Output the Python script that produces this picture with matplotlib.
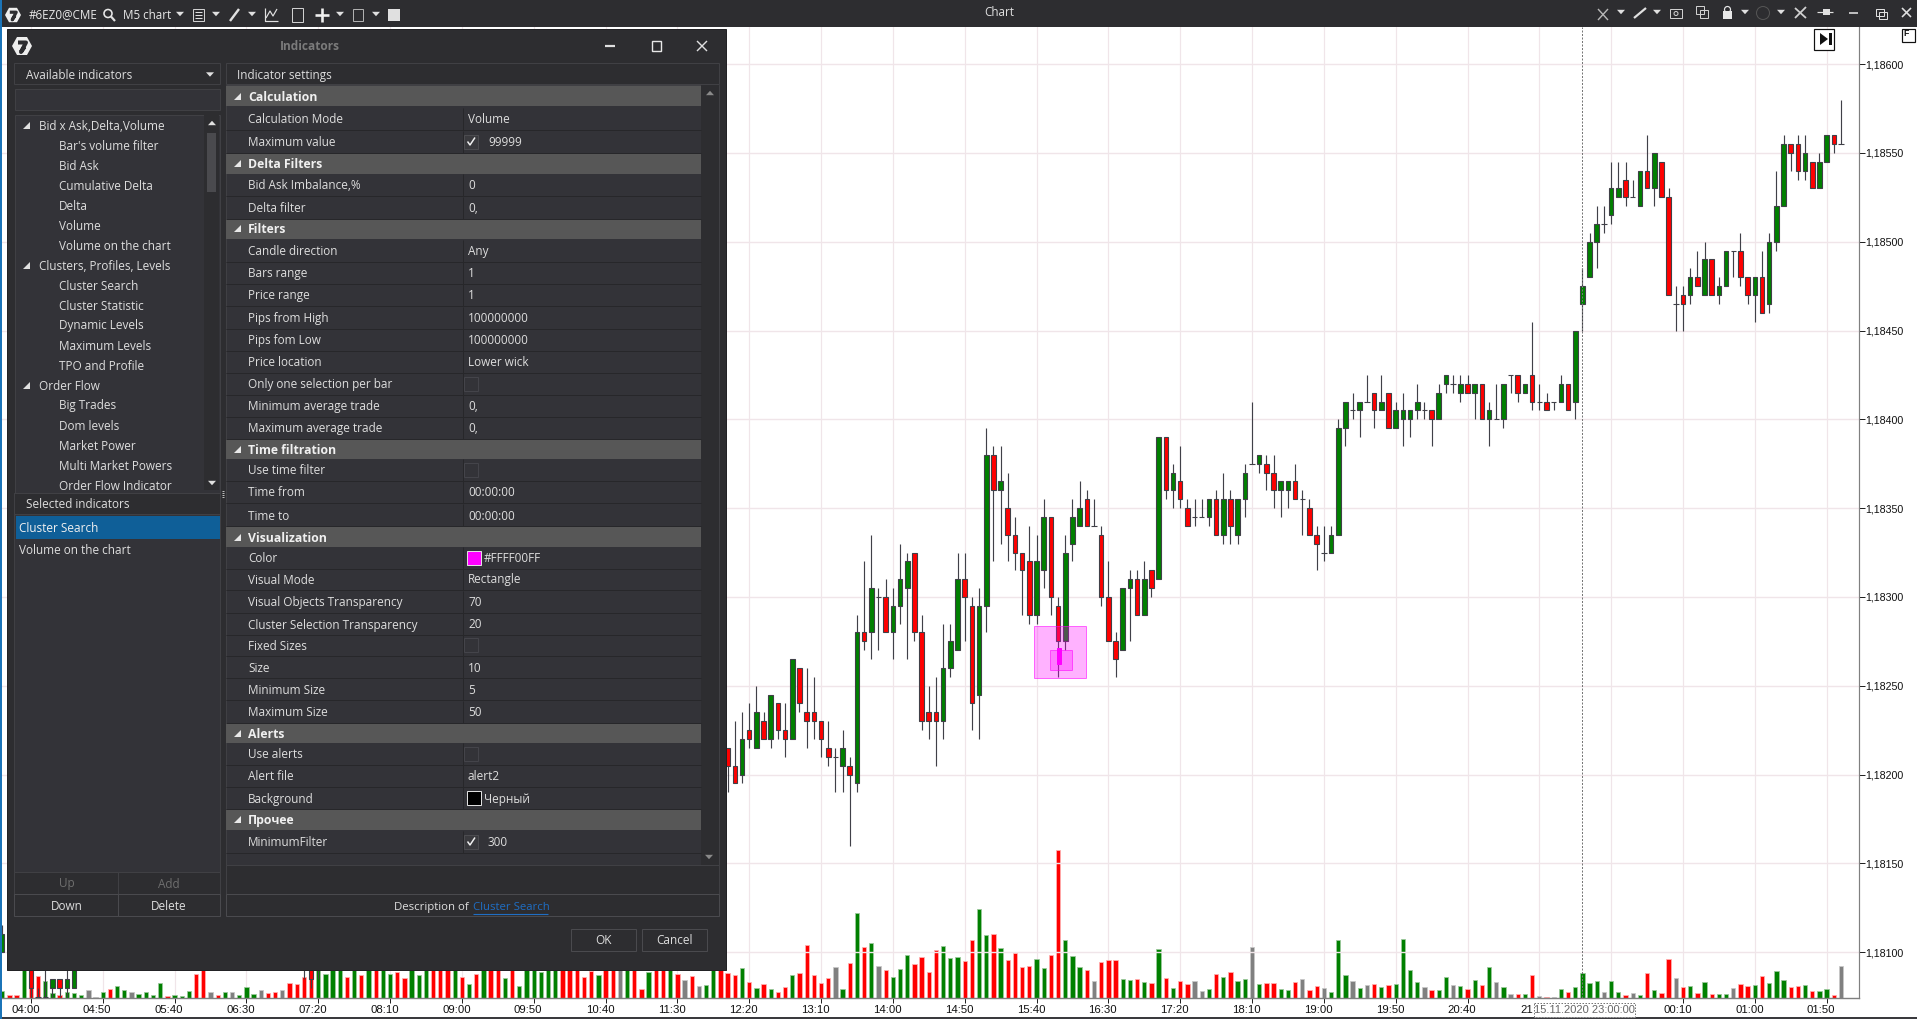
import matplotlib
matplotlib.use("Agg")
import matplotlib.pyplot as plt
from matplotlib.patches import Rectangle, Polygon, Circle
from matplotlib.transforms import ScaledTranslation

# ---------- data (prices in ticks below 1.18400, 1 tick = 0.00005) ----------
first_bar = 97
candle_dir = list(
    "rrgrgrgrrg" "rrrrrdgrgr" "gdrgggrrrr" "gggrrggrgr" "rrrggrrggg"
    "rdrrrggrgr" "grgrrddgrg" "rggdgrrggr" "drrdgggdgd" "rgrggggdrg"
    "gdgrgrgdgd" "rgrdrdgrgg" "ggdggrdgrg" "rrdrgrgrgg" "drrgrgggrr" "grggrd")
body_top = [37,39,36,35,33,34,31,32,35,27, 28,33,33,34,37,38,37,39,24,24,
            19,20,20,21,18,16,15,24,33,33, 28,25,18,18,21,21,4,4,7,10,
            13,15,16,16,11,11,21,15,11,10, 9,12,13,20,25,19,18,18,18,17,
            2,2,6,7,10,11,11,9,9,9, 9,9,6,5,4,5,6,7,7,7,
            9,10,13,15,13,1,-2,-1,-2,-2, -3,-2,-3,-1,-1,-1,-2,-1,-1,-3,
            -5,-4,-4,-4,-4,-4,-1,0,-4,-5, -5,-4,-5,-2,-2,-2,-4,-4,-10,-15,
            -20,-22,-22,-26,-26,-27,-25,-28,-28,-30, -29,-25,-13,-14,-16,-16,-18,-18,-15,-19,
            -19,-19,-16,-16,-16,-20,-24,-31,-31,-31, -30,-29,-29,-32,-32,-31]
body_bot = [39,41,40,36,37,36,36,35,36,36, 32,34,34,36,38,38,39,40,41,25,
            24,20,24,24,21,19,24,34,34,34, 34,28,26,20,32,31,21,8,8,13,
            15,17,22,22,17,20,25,25,14,12, 12,12,20,25,27,26,19,22,22,19,
            18,8,8,9,12,11,11,11,13,13, 12,13,9,5,5,6,8,8,8,9,
            9,13,14,15,15,13,1,-1,-1,-2, -1,-1,1,1,0,0,-1,-1,0,0,
            -4,-4,-3,-3,-3,0,0,0,0,-5, -3,-3,-2,-2,-1,-2,-2,-1,-2,-13,
            -16,-20,-22,-23,-25,-25,-25,-24,-26,-26, -25,-14,-13,-13,-14,-15,-14,-14,-14,-15,
            -19,-16,-14,-14,-12,-13,-20,-24,-30,-28, -28,-26,-26,-29,-31,-31]
wick_hi = [37,34,33,32,30,33,31,32,32,27, 28,28,29,34,34,37,35,38,22,16,
           13,19,18,19,14,15,15,22,30,29, 23,23,15,15,20,19,1,3,3,6,
           11,15,12,13,9,11,20,13,9,7, 8,9,12,16,24,19,17,17,16,17,
           2,2,5,3,9,9,9,9,8,6, 8,9,5,-2,4,4,4,7,7,5,
           8,9,12,12,12,0,-2,-3,-2,-5, -3,-5,-3,-2,-3,-1,-4,-2,-1,-4,
           -5,-5,-5,-5,-4,-4,-2,-4,-4,-5, -5,-4,-11,-4,-3,-2,-5,-4,-10,-17,
           -21,-24,-24,-29,-29,-29,-27,-28,-32,-30, -29,-26,-15,-15,-17,-19,-20,-18,-16,-19,
           -19,-21,-16,-16,-19,-21,-28,-32,-31,-32, -32,-29,-30,-32,-32,-36]
wick_lo = [42,41,41,37,37,36,37,36,38,36, 33,37,36,38,39,42,42,48,42,26,
           27,26,24,27,23,27,25,35,36,39, 36,29,26,25,35,36,24,16,14,16,
           17,22,23,23,19,22,29,26,16,12, 12,12,21,25,29,26,25,22,22,20,
           18,9,10,10,12,12,11,12,13,14, 14,14,11,5,6,8,10,11,10,9,
           13,13,17,16,15,13,3,0,2,-2, 1,-1,1,1,3,2,0,0,3,0,
           -3,-3,-2,-3,0,0,3,0,1,-3, -2,-3,-1,-1,-1,-1,-2,-1,0,-10,
           -16,-17,-21,-22,-25,-24,-25,-24,-26,-24, -25,-14,-10,-10,-13,-15,-14,-14,-13,-15,
           -16,-15,-13,-11,-12,-12,-19,-24,-28,-27, -27,-26,-26,-29,-30,-31]
# candles that peek out around the dialog, far left
side_bar = [-4,0,1,2,3,4,5,6,38,39,40]
side_dir = list("grddgrggrrg")
side_top = [58,60,65,65,63,63,63,60,55,60,55]
side_bot = [60,64,65,65,64,64,64,64,57,63,57]
side_hi = [57,58,64,62,63,63,60,60,55,58,55]
side_lo = [60,66,65,65,65,65,65,64,63,64,63]

vol_first = -4
vol_groups = [
 ("g",20),("r",9),("r",9),("g",100),("r",100),("r",67),("g",51),("g",15),("r",9),("g",18),
 ("g",15),("g",9),("k",24),("k",3),("g",18),("r",27),("g",36),("g",24),("k",18),("g",12),
 ("g",18),("g",9),("g",45),("r",6),("g",9),("g",6),("g",21),("r",72),("r",100),("k",18),
 ("r",9),("g",18),("k",18),("g",9),("g",33),("g",12),("k",24),("r",15),("r",18),("k",24),
 ("r",45),("r",42),("r",63),("r",100),("g",100),("g",72),("g",110),("g",110),("r",63),("g",100),
 ("r",69),("g",110),("r",110),("g",100),("g",72),("r",78),("r",60),("g",100),("g",69),("g",110),
 ("r",110),("r",110),("r",110),("g",100),("r",63),("g",42),("r",72),("g",100),("r",100),("r",83),
 ("g",60),("r",100),("g",36),("g",100),("g",100),("g",78),("g",100),("g",100),("r",100),("r",100),
 ("r",100),("r",63),("r",81),("g",69),("r",83),("r",100),("k",100),("g",83),("r",100),("r",27),
 ("g",78),("r",100),("r",100),("g",100),("r",72),("k",54),("r",66),("k",36),("g",39),("g",100),
 ("r",90),("r",75),("r",69),("g",90),("r",48),("g",30),("r",42),("g",27),("r",18),("r",33),
 ("g",69),("r",75),("r",159),("r",69),("r",45),("r",60),("k",93),("g",27),("r",105),("g",255),
 ("r",153),("g",165),("k",96),("r",84),("g",63),("g",87),("g",129),("r",102),("r",123),("r",78),
 ("r",144),("g",156),("g",120),("g",123),("r",110),("r",174),("g",267),("g",188),("r",191),("g",150),
 ("r",114),("r",135),("r",93),("r",95),("g",117),("g",90),("r",129),("r",444),("g",174),("g",126),
 ("g",93),("r",84),("k",51),("r",108),("r",114),("r",114),("g",57),("g",54),("r",57),("g",48),
 ("r",45),("g",147),("r",60),("g",30),("r",51),("r",42),("k",51),("k",20),("g",26),("r",72),
 ("g",63),("r",78),("g",51),("g",57),("k",153),("g",42),("r",45),("r",45),("g",27),("g",24),
 ("r",48),("k",57),("r",24),("r",36),("k",30),("g",18),("g",174),("g",69),("k",51),("g",30),
 ("k",39),("r",42),("g",33),("r",39),("g",42),("g",177),("g",84),("g",48),("k",33),("r",24),
 ("g",24),("g",63),("k",39),("g",36),("r",27),("g",54),("r",39),("g",93),("k",48),("g",33),
 ("k",12),("r",12),("g",12),("r",69),("k",7),("r",4),("k",4),("g",27),("r",18),("g",33),
 ("g",75),("g",45),("g",51),("k",18),("g",51),("g",18),("r",9),("k",15),("g",9),("r",75),
 ("g",24),("r",15),("r",117),("k",60),("r",33),("g",36),("r",15),("g",48),("r",12),("g",12),
 ("g",12),("k",30),("r",42),("r",36),("g",39),("r",66),("g",45),("g",81),("g",54),("r",33),
 ("r",36),("g",39),("r",21),("g",21),("g",27),("r",9),("k",96)]
vol_dir = [c for c, _ in vol_groups]
vol_val = [v for _, v in vol_groups]

price_ticks = [1.18100, 1.18150, 1.18200, 1.18250, 1.18300, 1.18350, 1.18400, 1.18450, 1.18500, 1.18550, 1.18600]
grid_bars = list(range(0, 260, 10))
time_bars = list(range(0, 210, 10)) + [230, 240, 250]
time_labels = ["04:00","04:50","05:40","06:30","07:20","08:10","09:00","09:50","10:40","11:30","12:20",
               "13:10","14:00","14:50","15:40","16:30","17:20","18:10","19:00","19:50","20:40",
               "00:10","01:00","01:50"]
partial_label = "21"

crosshair_bar = 216
crosshair_label = "15.11.2020 23:00:00"

tree_items = [("Bid x Ask,Delta,Volume",0),("Bar's volume filter",1),("Bid Ask",1),("Cumulative Delta",1),
              ("Delta",1),("Volume",1),("Volume on the chart",1),("Clusters, Profiles, Levels",0),
              ("Cluster Search",1),("Cluster Statistic",1),("Dynamic Levels",1),("Maximum Levels",1),
              ("TPO and Profile",1),("Order Flow",0),("Big Trades",1),("Dom levels",1),("Market Power",1),
              ("Multi Market Powers",1),("Order Flow Indicator",1)]
section_rows = [(96,"Calculation"),(163.5,"Delta Filters"),(228.5,"Filters"),(449,"Time filtration"),
                (537,"Visualization"),(733,"Alerts"),(819.5,"Прочее")]
setting_rows = [(118.5,"Calculation Mode","Volume"),(141.5,"Maximum value","check:99999"),
                (184.5,"Bid Ask Imbalance,%","0"),(207.5,"Delta filter","0,"),
                (250.5,"Candle direction","Any"),(272.5,"Bars range","1"),(294.5,"Price range","1"),
                (317.5,"Pips from High","100000000"),(339.5,"Pips fom Low","100000000"),
                (361.5,"Price location","Lower wick"),(383.5,"Only one selection per bar","box"),
                (405.5,"Minimum average trade","0,"),(427.5,"Maximum average trade","0,"),
                (470,"Use time filter","box"),(492,"Time from","00:00:00"),(515,"Time to","00:00:00"),
                (558,"Color","swatch:#ff00ff:#FFFF00FF"),(579,"Visual Mode","Rectangle"),
                (601.5,"Visual Objects Transparency","70"),(624,"Cluster Selection Transparency","20"),
                (645,"Fixed Sizes","box"),(667,"Size","10"),(689,"Minimum Size","5"),(712,"Maximum Size","50"),
                (754,"Use alerts","box"),(776,"Alert file","alert2"),(798,"Background","swatch:#000000:Черный"),
                (841.5,"MinimumFilter","check:300")]

# ---------- layout ----------
W, H = 1917, 1019
DPI = 100
fig = plt.figure(figsize=(W / DPI, H / DPI), dpi=DPI, facecolor="white")
PX = 72 / DPI
L, R, T, B = 0, 1859, 27, 998
BAR_PX, X0 = 7.183, 30.9


def rect_axes(z):
    a = fig.add_axes([L / W, 1 - B / H, (R - L) / W, (B - T) / H], zorder=z)
    a.set_xlim((L - X0) / BAR_PX, (R - X0) / BAR_PX)
    return a


def to_price(k):
    return 1.18400 - 0.00005 * k


GRID = "#f0e5e9"
ax_vol = rect_axes(1)
ax_vol.set_ylim(0, (B - T) * 3)
ax = rect_axes(2)
ax.patch.set_alpha(0)
PXK = 8.88
ax.set_ylim(to_price((B - 419.33) / PXK), to_price((T - 419.33) / PXK))

# grid and axes
for p in price_ticks:
    ax.axhline(p, color=GRID, lw=1.4 * PX, zorder=0)
for b in grid_bars:
    ax_vol.axvline(b, color=GRID, lw=1.2 * PX, zorder=0)
ax_vol.set_xticks([])
ax_vol.set_yticks([])
for s in ax_vol.spines.values():
    s.set_visible(False)

# volume bars
colors = {"r": "#ff0000", "g": "#008000", "k": "#808080"}
edges = {"r": "#ffb0b0", "g": "#9cc89c", "k": "#c8c8c8"}
vbars = [vol_first + n for n in range(len(vol_val))]
ax_vol.bar(vbars, vol_val, width=0.6, color=[colors[c] for c in vol_dir],
           edgecolor=[edges[c] for c in vol_dir], linewidth=0.8 * PX, zorder=2)

# candles
all_x = [first_bar + n for n in range(len(candle_dir))] + side_bar
all_d = candle_dir + side_dir
all_t = body_top + side_top
all_b = body_bot + side_bot
all_h = wick_hi + side_hi
all_l = wick_lo + side_lo
EDGE = "#404048"
ax.vlines(all_x, [to_price(v) for v in all_l], [to_price(v) for v in all_h], color=EDGE, lw=1.15 * PX, zorder=3)
for x, d, t, b in zip(all_x, all_d, all_t, all_b):
    if d == "d":
        ax.hlines(to_price(t), x - 0.38, x + 0.38, color=EDGE, lw=1.1 * PX, zorder=3)
    else:
        ax.bar(x, to_price(t) - to_price(b), bottom=to_price(b), width=0.64,
               color=colors[d], edgecolor=EDGE, linewidth=1.1 * PX, zorder=4)

# cluster-search highlight
cluster_bar = (139.7, 146.95)
cluster_k = (23.26, 29.1)
inner_bar = (141.9, 144.9)
inner_k = (25.97, 28.23)
core_bar = (142.85, 143.45)
core_k = (25.8, 27.6)
for (bx, bk, fc, ec) in [(cluster_bar, cluster_k, (1, 0, 1, .30), (1, 0, 1, .55)),
                         (inner_bar, inner_k, (1, 0, 1, .30), (1, 0, 1, .55)),
                         (core_bar, core_k, (1, 0, 1, 1), (1, 0, 1, 1))]:
    ax.add_patch(Rectangle((bx[0], to_price(bk[1])), bx[1] - bx[0], to_price(bk[0]) - to_price(bk[1]),
                           fc=fc, ec=ec, lw=1 * PX, zorder=5))

# crosshair
ax.axvline(crosshair_bar, color="#777777", lw=1 * PX, ls=(0, (2, 1.5)), zorder=6)

# axes
for n in ("top", "left"):
    ax.spines[n].set_visible(False)
ax.spines["right"].set_color("#808080")
ax.spines["bottom"].set_color("#808080")
ax.spines["right"].set_linewidth(1.2 * PX)
ax.spines["bottom"].set_linewidth(1.4 * PX)
ax.yaxis.tick_right()
ax.set_yticks(price_ticks)
ax.set_yticklabels([f"{p:.5f}".replace(".", ",") for p in price_ticks])
ax.set_xticks(time_bars)
ax.set_xticklabels(time_labels)
ax.tick_params(axis="y", length=6 * PX, width=1 * PX, color="#222222", pad=0.3, labelsize=7.7, labelcolor="#111111")
ax.tick_params(axis="x", length=5 * PX, width=1 * PX, color="#222222", pad=1.5, labelsize=8.2, labelcolor="#111111")
for lab in ax.get_yticklabels() + ax.get_xticklabels():
    lab.set_fontfamily("Liberation Sans")
off = ScaledTranslation(-5.5 / DPI, 0, fig.dpi_scale_trans)
for lab in ax.get_xticklabels():
    lab.set_transform(lab.get_transform() + off)

# ---------- application chrome ----------
ui = fig.add_axes([0, 0, 1, 1], zorder=10)
ui.set_xlim(0, W)
ui.set_ylim(H, 0)
ui.axis("off")
UI_FONT = ["Open Sans", "Noto Sans", "DejaVu Sans"]
DLG, PANEL, HEAD, SEP = "#2d2d30", "#333338", "#575757", "#27272a"
TXT = "#dedede"


def box(x0, y0, x1, y1, fc=None, ec=None, lw=1.0, z=1):
    ui.add_patch(Rectangle((x0, y0), x1 - x0, y1 - y0, fc=fc if fc else "none", ec=ec if ec else "none",
                           lw=lw * PX, zorder=z))


def text(x, y, s, color=TXT, size=8.5, weight="normal", ha="left", z=5, family=None, **kw):
    return ui.text(x, y, s, color=color, fontsize=size, fontweight=weight, ha=ha, va="center",
                   fontfamily=family or UI_FONT, zorder=z, **kw)


def tri_down(x, y, s=4, c="#e0e0e0", z=6):
    ui.add_patch(Polygon([(x - s, y - s * .55), (x + s, y - s * .55), (x, y + s * .55)], fc=c, ec="none", zorder=z))


def tri_up(x, y, s=4, c="#8a8a8a", z=6):
    ui.add_patch(Polygon([(x - s, y + s * .55), (x + s, y + s * .55), (x, y - s * .55)], fc=c, ec="none", zorder=z))


def tree_tri(x, y, c="#e0e0e0", z=6):
    ui.add_patch(Polygon([(x + 3.5, y - 3.5), (x + 3.5, y + 3.5), (x - 3.5, y + 3.5)], fc=c, ec="none", zorder=z))


def line(xs, ys, c="#e0e0e0", lw=1.2, z=6, **kw):
    ui.plot(xs, ys, color=c, lw=lw * PX, zorder=z, solid_capstyle="butt", **kw)


def logo(x, y, r):
    hexa = [(x - r, y), (x - r * .5, y - r * .9), (x + r * .5, y - r * .9), (x + r, y), (x + r * .5, y + r * .9),
            (x - r * .5, y + r * .9)]
    ui.add_patch(Polygon(hexa, fc="#eeeeee", ec="none", zorder=6))
    line([x - r * .4, x + r * .4, x - r * .1, x + r * .25], [y - r * .35, y - r * .35, y + r * .6, y + r * .1],
         c=DLG, lw=r * .4, z=7)


# window toolbar, left border, bottom border
box(0, 0, W, T, fc=DLG)
box(0, 0, 1.8, H, fc="#1b74b8", z=2)
box(0, 1017, W, H, fc="#3a3a3e", z=1)
logo(13, 15, 8)
text(29, 15, "#6EZ0@CME", size=8.4, color="#e8e8e8")
ui.add_patch(Circle((108, 13.5), 4, fc="none", ec="#e8e8e8", lw=1.6 * PX, zorder=6))
line([111, 115], [16.5, 21], lw=2.2)
text(123, 15, "M5 chart", size=8.4, color="#e8e8e8")
tri_down(180, 14)
box(193, 9, 204, 21, ec="#d0d0d0")
for yy in (12, 15, 18):
    line([195, 202], [yy, yy], lw=1)
tri_down(216, 14)
line([230, 239], [21, 9], lw=2.4)
tri_down(252, 14)
line([265, 265, 278], [8, 21, 21], lw=1.2)
line([266, 270, 273, 277], [18, 11, 16, 9], lw=1.2)
box(292, 8, 303, 22, ec="#d0d0d0")
line([322, 322], [8, 22], lw=2.6, c="#f0f0f0")
line([315, 329], [15, 15], lw=2.6, c="#f0f0f0")
tri_down(340, 14)
box(353, 9, 363, 21, ec="#b0b0b0")
tri_down(376, 14)
box(388, 9, 400, 21, fc="#e0e0e0")
text(999, 12.5, "Chart", size=8.4, color="#e0e0e0", ha="center")
line([1598, 1608], [9, 20], c="#b8b8b8", lw=1.4)
line([1598, 1608], [20, 9], c="#b8b8b8", lw=1.4)
tri_down(1621, 12)
line([1634, 1646], [18, 8], lw=2.2)
tri_down(1657, 12)
box(1670, 9, 1682, 18, ec="#cfcfcf")
ui.add_patch(Circle((1676, 13.5), 2, fc="none", ec="#cfcfcf", lw=1 * PX, zorder=6))
box(1696, 6, 1704, 14, ec="#cfcfcf")
box(1700, 10, 1708, 18, ec="#cfcfcf")
box(1723, 11, 1732, 19, fc="#e8e8e8")
ui.add_patch(Circle((1727.5, 9.5), 3, fc="none", ec="#e8e8e8", lw=1.2 * PX, zorder=6))
tri_down(1745, 12)
ui.add_patch(Circle((1763, 13), 6.5, fc="none", ec="#555555", lw=1 * PX, zorder=6))
tri_down(1781, 12)
line([1795, 1806], [18, 7], lw=1.8, c="#d0d0d0")
line([1795, 1806], [8, 18], lw=1.8, c="#d0d0d0")
line([1817, 1833], [12, 12], lw=1.2)
box(1823, 9, 1830, 15, fc="#e0e0e0")
line([1849, 1858], [12.5, 12.5], lw=1.6)
box(1876, 9, 1884, 16, ec="#e0e0e0")
box(1879, 12, 1887, 19, ec="#e0e0e0")
line([1902, 1911], [8, 17], lw=1.6)
line([1902, 1911], [17, 8], lw=1.6)

# chart widgets
box(1814, 29, 1834, 50, fc="white", ec="#111111", lw=1.2)
ui.add_patch(Polygon([(1820, 33), (1820, 45), (1828, 39)], fc="#111111", ec="none", zorder=3))
box(1829, 33, 1831.5, 45, fc="#111111", z=3)
box(1902, 29, 1915, 42, fc="white", ec="#111111", lw=1.2)
text(1903, 33, "F", color="#111111", size=6.2, family="Liberation Sans", weight="bold")
# date box under the crosshair, with the part of a time label it leaves visible
text(1520.5, 1010, partial_label, color="#111111", size=8.2, family="Liberation Sans", z=1)
box(1534, 1003, 1635, 1017, fc="white", ec="#777777", z=2)
ui.patches[-1].set_linestyle((0, (1.5, 1.5)))
text(1584.5, 1010, crosshair_label, color="#666666", size=8.0, ha="center", family="Liberation Sans", z=3)

# dialog
box(7, 28.5, 725.5, 969.5, fc=DLG, ec="#222225", z=2)
logo(22, 46, 10)
text(309.5, 46, "Indicators", color="#7b7b7b", size=8.6, weight="bold", ha="center")
line([605, 615], [46, 46], lw=2.2)
box(651.5, 41, 661, 51, ec="#e8e8e8", lw=1.4, z=6)
line([697, 707], [41, 51], lw=1.4)
line([697, 707], [51, 41], lw=1.4)

# left panels
box(14, 63, 220, 84, fc=DLG, ec="#404044", z=3)
text(26, 75, "Available indicators")
tri_down(210, 74.5)
box(15, 89, 220, 110, fc=PANEL, ec="#404044", z=3)
box(15, 115, 220, 493, fc=PANEL, ec="#404044", z=3)
clip = Rectangle((15, 115), 205, 375, transform=ui.transData)
for n, (name, lev) in enumerate(tree_items):
    y = 126 + 20 * n
    tx = text(39 if lev == 0 else 59, y, name)
    tx.set_clip_path(clip)
    if lev == 0:
        tree_tri(26, y - 1, c="#e0e0e0")
box(204, 115, 219, 490, fc=DLG, z=4)
box(207, 133, 216, 192, fc="#4a4a4e", z=5)
tri_up(212, 123, 4, c="#e0e0e0")
tri_down(212, 483, 4, c="#e0e0e0")
for yy in range(491, 498, 2):
    line([222, 224], [yy, yy], lw=1, c="#bbbbbb")
box(14, 493, 220, 916, fc=PANEL, ec="#404044", z=3)
box(14, 493, 220, 514, fc=DLG, ec="#404044", z=3)
text(26, 504.5, "Selected indicators")
box(16, 516, 220, 539, fc="#0f5f98", z=4)
text(19, 528, "Cluster Search", color="#f0f0f0")
text(19, 550, "Volume on the chart")
box(14, 872, 117.5, 894, fc=DLG, ec="#404044", z=4)
box(117.5, 872, 220, 894, fc=DLG, ec="#404044", z=4)
box(14, 894, 117.5, 916, fc=DLG, ec="#4a4a4e", z=4)
box(117.5, 894, 220, 916, fc=DLG, ec="#4a4a4e", z=4)
text(66.5, 884, "Up", color="#6f6f6f", ha="center")
text(169, 884, "Add", color="#6f6f6f", ha="center")
text(66.5, 906.5, "Down", ha="center")
text(169, 906.5, "Delete", ha="center")

# right panel
box(225.5, 63, 719, 84, fc=DLG, ec="#404044", z=3)
text(237, 75, "Indicator settings")
box(225.5, 85, 719, 865, fc=PANEL, ec="#404044", z=3)
box(701, 85, 719, 865, fc=DLG, z=4)
tri_up(710, 93, 4)
tri_down(709, 857, 4, c="#8a8a8a")
for y, name in section_rows:
    box(225.5, y - 10, 701, y + 10, fc=HEAD, z=4)
    tree_tri(237, y, c="#e8e8e8")
    text(248, y + 1, name, color="#f0f0f0", weight="bold", size=8.8)
for y, name, val in setting_rows:
    line([225.5, 701], [y + 11, y + 11], c=SEP, lw=1, z=4)
    line([463, 463], [y - 11, y + 11], c=SEP, lw=1, z=4)
    text(248, y + 1, name)
    if val.startswith("check:"):
        box(464, y - 7, 478, y + 7, ec="#4c4c50", fc="#3a3a3e", z=5)
        line([467.5, 470, 475], [y, y + 3.5, y - 4], lw=1.5, c="#f0f0f0")
        text(488, y + 1, val[6:])
    elif val == "box":
        box(464, y - 7, 478, y + 7, ec="#44444a", z=5)
    elif val.startswith("swatch:"):
        _, col, label = val.split(":")
        box(467, y - 7.5, 481, y + 6.5, fc=col, ec="#e0e0e0", z=5)
        text(484, y + 1, label)
    else:
        text(468, y + 1, val)
box(225.5, 865, 719, 894, fc=DLG, ec="#404044", z=3)
box(225.5, 894, 719, 916, fc=DLG, ec="#4a4a4e", z=3)
text(472, 907.5, "Description of ", ha="right", size=8.2)
text(473, 907.5, "Cluster Search", color="#1f6ec4", ha="left", size=8.2)
line([473, 548], [914, 914], c="#1f6ec4", lw=1.1)
box(571, 929, 636, 951, fc=DLG, ec="#4a4a4e", z=3)
text(603.5, 941, "OK", ha="center")
box(642, 929, 707, 951, fc=DLG, ec="#4a4a4e", z=3)
text(674.5, 941, "Cancel", ha="center")

assert len(candle_dir) == len(body_top) == len(body_bot) == len(wick_hi) == len(wick_lo) == 156
assert len(vol_val) == 257
fig.savefig("out.png", dpi=DPI, facecolor="white")
